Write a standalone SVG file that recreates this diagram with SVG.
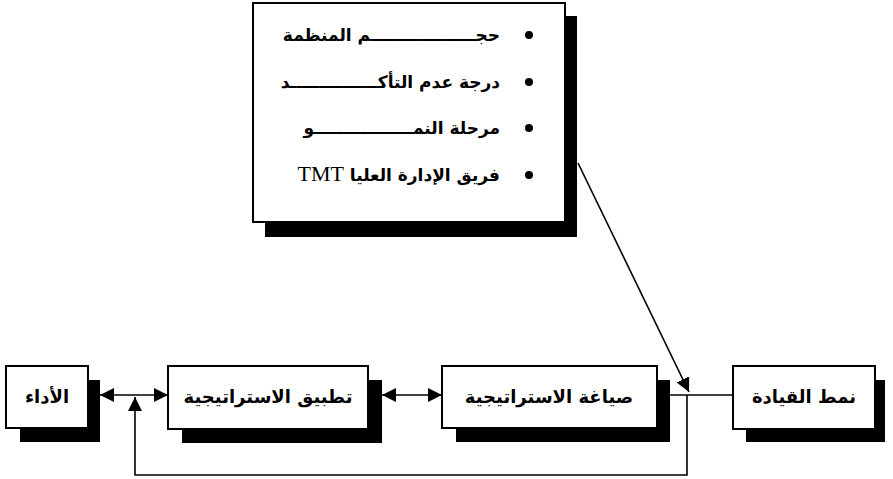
<svg xmlns="http://www.w3.org/2000/svg" width="893" height="479" viewBox="0 0 893 479">
<style>
.box{fill:#fff;stroke:#000;stroke-width:2}
.sh{fill:#000}
.t{font-family:"DejaVu Sans","Liberation Serif",serif;font-size:18px;font-weight:bold;fill:#000;text-anchor:middle}
.li{font-family:"DejaVu Sans","Liberation Serif",serif;font-size:17px;font-weight:bold;fill:#000}
.tmt{font-family:"Liberation Serif",serif;font-size:22px;font-weight:normal}
.c{fill:none;stroke:#000;stroke-width:1.6}
</style>
<defs>
<marker id="ah" viewBox="0 0 14 14" refX="14" refY="7" markerWidth="14" markerHeight="14" markerUnits="userSpaceOnUse" orient="auto-start-reverse">
<path d="M0,0 L14,7 L0,14 z" fill="#000"/>
</marker>
</defs>
<rect width="893" height="479" fill="#fff"/>
<g id="factors">
<rect class="sh" x="265" y="16" width="312" height="221"/>
<rect class="box" x="253" y="3" width="312" height="219"/>
<circle cx="529" cy="35" r="4"/>
<circle cx="529" cy="82" r="4"/>
<circle cx="529" cy="128" r="4"/>
<circle cx="529" cy="175" r="4"/>
<text class="li" x="500" y="41" direction="rtl" text-anchor="start">حجــــــــــــــــــم المنظمة</text>
<text class="li" x="500" y="88" direction="rtl" text-anchor="start">درجة عدم التأكـــــــــــــــد</text>
<text class="li" x="500" y="134" direction="rtl" text-anchor="start">مرحلة النمـــــــــــــــــو</text>
<text class="li" x="500" y="181" direction="rtl" text-anchor="start">فريق الإدارة العليا  <tspan class="tmt">TMT</tspan></text>
</g>
<g id="performance">
<rect class="sh" x="20" y="380" width="80" height="62"/>
<rect class="box" x="6" y="366" width="82" height="62"/>
<text class="t" x="47" y="403" direction="rtl">الأداء</text>
</g>
<g id="implementation">
<rect class="sh" x="182" y="380" width="200" height="63"/>
<rect class="box" x="168" y="366" width="200" height="63"/>
<text class="t" x="268" y="403" direction="rtl">تطبيق الاستراتيجية</text>
</g>
<g id="formulation">
<rect class="sh" x="456" y="380" width="214" height="62"/>
<rect class="box" x="442" y="366" width="215" height="62"/>
<text class="t" x="549" y="403" direction="rtl">صياغة الاستراتيجية</text>
</g>
<g id="leadership">
<rect class="sh" x="746" y="380" width="139" height="62"/>
<rect class="box" x="733" y="366" width="142" height="63"/>
<text class="t" x="804" y="403" direction="rtl">نمط القيادة</text>
</g>
<g id="connectors">
<line class="c" x1="100" y1="395" x2="168" y2="395" marker-start="url(#ah)" marker-end="url(#ah)"/>
<line class="c" x1="382" y1="395" x2="442" y2="395" marker-start="url(#ah)" marker-end="url(#ah)"/>
<line class="c" x1="670" y1="395" x2="733" y2="395"/>
<polyline class="c" points="687,395 687,475 135,475 135,397" marker-end="url(#ah)"/>
<line class="c" x1="578" y1="163" x2="689" y2="392" marker-end="url(#ah)"/>
</g>
</svg>
